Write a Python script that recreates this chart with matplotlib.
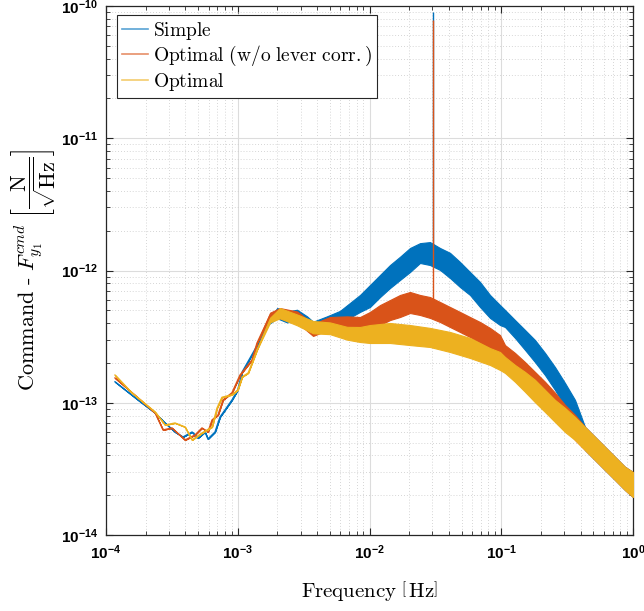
import numpy as np
import matplotlib
matplotlib.use("Agg")
import matplotlib.pyplot as plt
from matplotlib.font_manager import FontProperties
from matplotlib.ticker import FuncFormatter, LogLocator, NullFormatter
from matplotlib.lines import Line2D

# ---------------- data ----------------
labels = ["Simple", "Optimal (w/o lever corr.)", "Optimal"]

f_simple = [1.17e-4, 1.75e-4, 2.36e-4, 2.81e-4, 3.34e-4, 3.84e-4, 4.50e-4, 4.99e-4,
            5.64e-4, 5.94e-4, 6.72e-4, 7.33e-4, 7.99e-4, 9.04e-4, 1.00e-3, 1.08e-3,
            1.24e-3, 1.48e-3, 1.70e-3, 1.99e-3, 2.37e-3, 2.82e-3, 3.36e-3, 3.73e-3,
            4.75e-3, 5.97e-3, 8.47e-3, 1.009e-2, 1.202e-2, 1.431e-2, 1.704e-2, 2.030e-2,
            2.417e-2, 2.879e-2, 3.429e-2, 4.083e-2, 4.863e-2, 5.792e-2, 6.898e-2, 8.215e-2,
            9.783e-2, 0.1068, 0.1272, 0.1515, 0.1804, 0.2149, 0.2559, 0.3048, 0.3630,
            0.4323, 0.5149, 0.6132, 0.7303, 0.8697, 1.0]
lo_simple = [1.44e-13, 1.05e-13, 8.37e-14, 7.03e-14, 6.01e-14, 5.51e-14, 6.01e-14, 5.41e-14,
             6.01e-14, 5.32e-14, 6.01e-14, 7.80e-14, 8.81e-14, 1.05e-13, 1.25e-13, 1.71e-13,
             2.18e-13, 2.98e-13, 3.90e-13, 4.35e-13, 4.05e-13, 4.20e-13, 3.70e-13, 3.40e-13,
             3.70e-13, 4.00e-13, 4.86e-13, 5.30e-13, 6.30e-13, 7.37e-13, 8.48e-13, 9.74e-13,
             1.14e-12, 1.10e-12, 1.01e-12, 8.78e-13, 7.50e-13, 6.53e-13, 5.30e-13, 4.38e-13,
             3.87e-13, 3.74e-13, 3.09e-13, 2.51e-13, 2.03e-13, 1.62e-13, 1.25e-13, 9.29e-14,
             6.01e-14, 4.39e-14, 3.69e-14, 3.10e-14, 2.61e-14, 2.19e-14, 1.94e-14]
hi_simple = [1.44e-13, 1.05e-13, 8.37e-14, 7.03e-14, 6.01e-14, 5.51e-14, 6.01e-14, 5.41e-14,
             6.01e-14, 5.32e-14, 6.01e-14, 7.80e-14, 8.81e-14, 1.05e-13, 1.25e-13, 1.71e-13,
             2.18e-13, 2.98e-13, 4.15e-13, 5.20e-13, 4.90e-13, 5.05e-13, 4.50e-13, 4.10e-13,
             4.50e-13, 4.95e-13, 6.53e-13, 7.77e-13, 9.25e-13, 1.10e-12, 1.27e-12, 1.48e-12,
             1.61e-12, 1.64e-12, 1.48e-12, 1.36e-12, 1.16e-12, 9.74e-13, 8.19e-13, 6.53e-13,
             5.48e-13, 5.03e-13, 4.22e-13, 3.55e-13, 2.98e-13, 2.38e-13, 1.86e-13, 1.41e-13,
             1.05e-13, 6.56e-14, 5.51e-14, 4.63e-14, 3.89e-14, 3.27e-14, 2.99e-14]

f_nolever = [1.17e-4, 1.75e-4, 2.36e-4, 2.71e-4, 3.17e-4, 3.98e-4, 4.73e-4, 5.35e-4,
             5.94e-4, 6.38e-4, 7.08e-4, 7.72e-4, 9.04e-4, 1.04e-3, 1.28e-3, 1.40e-3,
             1.76e-3, 2.09e-3, 2.82e-3, 3.73e-3, 5.01e-3, 6.75e-3, 8.47e-3, 1.009e-2,
             1.202e-2, 1.431e-2, 1.704e-2, 2.030e-2, 2.417e-2, 2.879e-2, 3.429e-2, 4.083e-2,
             4.863e-2, 5.792e-2, 6.898e-2, 8.215e-2, 9.783e-2, 0.1068, 0.1272, 0.1515,
             0.1804, 0.2149, 0.2559, 0.3048, 0.3630, 0.4323, 0.5149, 0.6132, 0.7303,
             0.8697, 1.0]
lo_nolever = [1.54e-13, 1.09e-13, 8.37e-14, 6.23e-14, 6.45e-14, 5.23e-14, 5.70e-14, 6.45e-14,
              6.01e-14, 7.41e-14, 8.08e-14, 1.05e-13, 1.19e-13, 1.62e-13, 2.10e-13, 2.83e-13,
              4.40e-13, 4.35e-13, 4.05e-13, 3.20e-13, 3.60e-13, 3.70e-13, 3.25e-13, 3.55e-13,
              3.87e-13, 4.22e-13, 4.45e-13, 4.77e-13, 4.61e-13, 4.38e-13, 4.08e-13, 3.74e-13,
              3.43e-13, 3.14e-13, 2.83e-13, 2.59e-13, 2.30e-13, 2.00e-13, 1.71e-13, 1.49e-13,
              1.25e-13, 1.05e-13, 8.82e-14, 6.44e-14, 5.23e-14, 4.39e-14, 3.69e-14, 3.10e-14,
              2.61e-14, 2.19e-14, 1.94e-14]
hi_nolever = [1.54e-13, 1.09e-13, 8.37e-14, 6.23e-14, 6.45e-14, 5.23e-14, 5.70e-14, 6.45e-14,
              6.01e-14, 7.41e-14, 8.08e-14, 1.05e-13, 1.19e-13, 1.62e-13, 2.10e-13, 2.83e-13,
              4.80e-13, 5.20e-13, 4.90e-13, 3.95e-13, 4.45e-13, 4.50e-13, 4.45e-13, 4.86e-13,
              5.48e-13, 5.98e-13, 6.53e-13, 6.88e-13, 6.53e-13, 6.30e-13, 5.78e-13, 5.30e-13,
              4.86e-13, 4.45e-13, 4.08e-13, 3.68e-13, 3.25e-13, 2.73e-13, 2.38e-13, 2.03e-13,
              1.71e-13, 1.44e-13, 1.19e-13, 9.62e-14, 8.08e-14, 6.56e-14, 5.51e-14, 4.63e-14,
              3.89e-14, 3.27e-14, 2.99e-14]

f_optimal = [1.17e-4, 1.57e-4, 2.36e-4, 2.81e-4, 3.34e-4, 3.98e-4, 4.50e-4, 5.35e-4,
             6.38e-4, 6.96e-4, 7.59e-4, 9.04e-4, 1.00e-3, 1.08e-3, 1.20e-3, 1.40e-3,
             1.76e-3, 2.09e-3, 2.82e-3, 3.73e-3, 5.01e-3, 6.75e-3, 8.47e-3, 1.009e-2,
             1.431e-2, 2.030e-2, 2.879e-2, 4.083e-2, 5.792e-2, 8.215e-2, 9.783e-2, 0.1068,
             0.1272, 0.1515, 0.1804, 0.2149, 0.2559, 0.3048, 0.3630, 0.4323, 0.5149,
             0.6132, 0.7303, 0.8697, 1.0]
lo_optimal = [1.62e-13, 1.19e-13, 8.51e-14, 6.79e-14, 7.03e-14, 6.56e-14, 5.23e-14, 5.91e-14,
              6.56e-14, 9.12e-14, 1.10e-13, 1.15e-13, 1.25e-13, 1.57e-13, 1.68e-13, 2.51e-13,
              4.05e-13, 4.35e-13, 3.85e-13, 3.35e-13, 3.30e-13, 3.00e-13, 2.88e-13, 2.83e-13,
              2.83e-13, 2.73e-13, 2.64e-13, 2.42e-13, 2.18e-13, 1.93e-13, 1.77e-13, 1.68e-13,
              1.44e-13, 1.21e-13, 1.01e-13, 8.51e-14, 7.15e-14, 6.01e-14, 5.23e-14, 4.39e-14,
              3.69e-14, 3.10e-14, 2.61e-14, 2.19e-14, 1.94e-14]
hi_optimal = [1.62e-13, 1.19e-13, 8.51e-14, 6.79e-14, 7.03e-14, 6.56e-14, 5.23e-14, 5.91e-14,
              6.56e-14, 9.12e-14, 1.10e-13, 1.15e-13, 1.25e-13, 1.57e-13, 1.68e-13, 2.51e-13,
              4.40e-13, 5.20e-13, 4.65e-13, 4.15e-13, 4.05e-13, 3.75e-13, 3.74e-13, 3.87e-13,
              4.01e-13, 3.87e-13, 3.68e-13, 3.43e-13, 3.09e-13, 2.59e-13, 2.42e-13, 2.22e-13,
              1.93e-13, 1.71e-13, 1.49e-13, 1.25e-13, 1.05e-13, 9.13e-14, 7.80e-14, 6.56e-14,
              5.51e-14, 4.63e-14, 3.89e-14, 3.27e-14, 2.99e-14]

# narrow line peak present in the two first series
spike_freq = 0.0302
spike_base = [1.30e-12, 5.30e-13]
spike_top = [9.0e-11, 7.8e-11]

xticks = [1e-4, 1e-3, 1e-2, 1e-1, 1e0]
yticks = [1e-14, 1e-13, 1e-12, 1e-11, 1e-10]

colors = ["#0072BD", "#D95319", "#EDB120"]

# ---------------- style ----------------
plt.rcParams["mathtext.fontset"] = "custom"
plt.rcParams["mathtext.rm"] = "Liberation Sans"
plt.rcParams["mathtext.bf"] = "Liberation Sans:bold"
plt.rcParams["mathtext.it"] = "Liberation Sans:italic"

fig = plt.figure(figsize=(6.44, 6.11), dpi=100)
ax = fig.add_axes([106 / 644, 1 - 535 / 611, 527 / 644, 529 / 611])

series = [(f_simple, lo_simple, hi_simple),
          (f_nolever, lo_nolever, hi_nolever),
          (f_optimal, lo_optimal, hi_optimal)]

for i, (f, lo, hi) in enumerate(series):
    f = np.asarray(f)
    lo = np.asarray(lo)
    hi = np.asarray(hi)
    ax.fill_between(f, lo, hi, color=colors[i], lw=0.8, edgecolor=colors[i], alpha=1.0, zorder=2 + i)
    ax.plot(f, np.sqrt(lo * hi), color=colors[i], lw=1.0, zorder=2 + i)
    if i < 2:
        ax.vlines(spike_freq, spike_base[i], spike_top[i], color=colors[i], lw=1.0, zorder=2 + i)

ax.set_xscale("log")
ax.set_yscale("log")
ax.set_xlim(1e-4, 1)
ax.set_ylim(1e-14, 1e-10)
ax.set_xticks(xticks)
ax.set_yticks(yticks)
ax.xaxis.set_minor_locator(LogLocator(base=10, subs=np.arange(2, 10), numticks=20))
ax.yaxis.set_minor_locator(LogLocator(base=10, subs=np.arange(2, 10), numticks=20))
ax.xaxis.set_minor_formatter(NullFormatter())
ax.yaxis.set_minor_formatter(NullFormatter())
fmt = FuncFormatter(lambda v, p: r"$\mathbf{10^{%d}}$" % int(round(np.log10(v))))
ax.xaxis.set_major_formatter(fmt)
ax.yaxis.set_major_formatter(fmt)

ax.grid(True, which="major", color="#dcdcdc", lw=0.8, ls="-", zorder=0)
ax.grid(True, which="minor", color="#c8c8c8", lw=0.6, ls=(0, (1, 2.5)), zorder=0)
ax.set_axisbelow(True)

ax.tick_params(which="both", direction="in", top=True, right=True, colors="#262626",
               labelcolor="black")
ax.tick_params(which="major", length=5, width=0.8, labelsize=11, pad=6)
ax.tick_params(which="minor", length=3, width=0.6)
for s in ax.spines.values():
    s.set_color("#262626")
    s.set_linewidth(0.9)

xlab_font = FontProperties(size=15, math_fontfamily="cm")
ylab_font = FontProperties(size=16, math_fontfamily="cm")
ax.set_xlabel(r"$\mathrm{Frequency}\ \left[\,\mathrm{Hz}\right]$", fontproperties=xlab_font, labelpad=12)
ax.set_ylabel(r"$\mathrm{Command}\ \text{-}\ F_{y_1}^{cmd}\ \left[\dfrac{\mathrm{N}}{\sqrt{\mathrm{Hz}}}\right]$",
              fontproperties=ylab_font, labelpad=2)

leg_font = FontProperties(size=14, math_fontfamily="cm")
handles = [Line2D([], [], color=c, lw=1.2, alpha=0.65) for c in colors]
leg_labels = [r"$\mathrm{" + l.replace(" ", r"\ ") + "}$" for l in labels]
leg = ax.legend(handles, leg_labels, loc="upper left", prop=leg_font, fancybox=False,
                framealpha=1, edgecolor="#262626", handlelength=1.35, handletextpad=0.25,
                labelspacing=0.12, borderpad=0.25, borderaxespad=0.0,
                bbox_to_anchor=(0.021, 0.983))
leg.get_frame().set_linewidth(0.8)
leg.set_zorder(10)

fig.savefig("out.png", dpi=100)
